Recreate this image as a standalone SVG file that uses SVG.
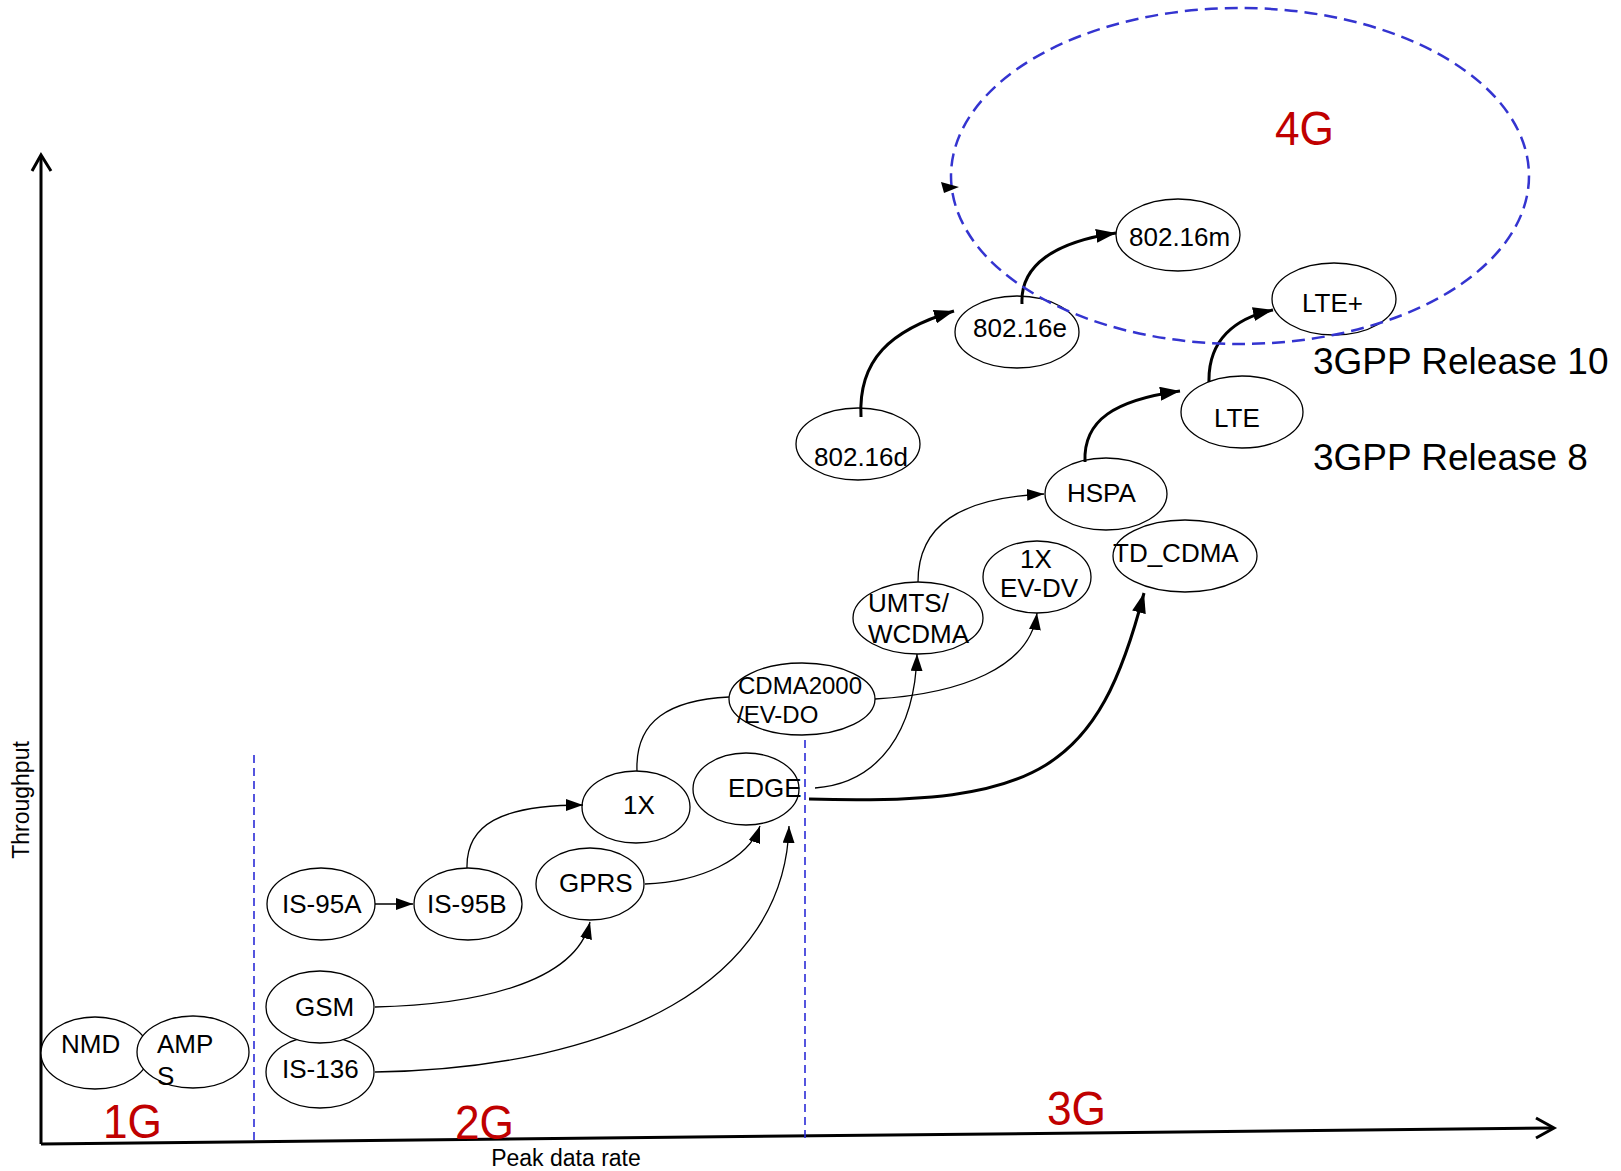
<svg xmlns="http://www.w3.org/2000/svg" width="1621" height="1171" viewBox="0 0 1621 1171">
<defs>
<style>
.node ellipse{fill:#fff;stroke:#000;stroke-width:1.3}
.node text{font-family:"Liberation Sans",Arial,sans-serif;font-size:26px;fill:#000}
.conn{fill:none;stroke:#000;stroke-width:1.3}
.thick{fill:none;stroke:#000;stroke-width:3}
.axis{fill:none;stroke:#000;stroke-width:3}
.gen{font-family:"Liberation Sans",Arial,sans-serif;font-size:49px;fill:#c00000}
.lbl{font-family:"Liberation Sans",Arial,sans-serif;font-size:23px;fill:#000}
.rel{font-family:"Liberation Sans",Arial,sans-serif;font-size:37px;fill:#000}
.sep{stroke:#2b2bd6;stroke-width:1.6;stroke-dasharray:8 5;fill:none}
</style>
<marker id="a" viewBox="0 0 17 12" refX="17" refY="6" markerWidth="17" markerHeight="12" markerUnits="userSpaceOnUse" orient="auto"><path d="M0,0 L17,6 L0,12 z" fill="#000"/></marker>
<marker id="b" viewBox="0 0 20 14" refX="20" refY="7" markerWidth="20" markerHeight="14" markerUnits="userSpaceOnUse" orient="auto"><path d="M0,0 L20,7 L0,14 z" fill="#000"/></marker>
</defs>
<rect width="1621" height="1171" fill="#fff"/>

<g id="axes">
<line class="axis" x1="41" y1="1144" x2="41" y2="156"/>
<polyline class="axis" points="32,171 41,155 51,171" stroke-width="2.5"/>
<line class="axis" x1="41" y1="1144" x2="1553" y2="1128"/>
<polyline class="axis" points="1536,1118 1554,1128 1536,1138" stroke-width="2.5"/>
<text class="lbl" transform="translate(29,800) rotate(-90)" text-anchor="middle">Throughput</text>
<text class="lbl" x="566" y="1166" text-anchor="middle">Peak data rate</text>
</g>

<g id="separators">
<line class="sep" x1="254" y1="755" x2="254" y2="1142"/>
<line class="sep" x1="805" y1="727" x2="805" y2="1142"/>
</g>

<g id="generation-labels">
<text class="gen" x="103" y="1138" textLength="59" lengthAdjust="spacingAndGlyphs">1G</text>
<text class="gen" x="455" y="1139" textLength="59" lengthAdjust="spacingAndGlyphs">2G</text>
<text class="gen" x="1047" y="1125" textLength="59" lengthAdjust="spacingAndGlyphs">3G</text>
<text class="gen" x="1275" y="145" textLength="59" lengthAdjust="spacingAndGlyphs">4G</text>
</g>

<g id="release-labels">
<text class="rel" x="1313" y="374">3GPP Release 10</text>
<text class="rel" x="1313" y="470">3GPP Release 8</text>
</g>

<g id="NMD" class="node"><ellipse cx="95" cy="1053" rx="54" ry="36"/><text x="61" y="1053">NMD</text></g>
<g id="AMPS" class="node"><ellipse cx="193" cy="1052" rx="56" ry="36"/><text x="157" y="1053">AMP</text><text x="157" y="1085">S</text></g>
<g id="IS-136" class="node"><ellipse cx="320" cy="1072" rx="54" ry="36"/><text x="282" y="1078">IS-136</text></g>
<g id="GSM" class="node"><ellipse cx="320" cy="1007" rx="54" ry="36"/><text x="295" y="1016">GSM</text></g>
<g id="IS-95A" class="node"><ellipse cx="321" cy="904" rx="54" ry="36"/><text x="282" y="913">IS-95A</text></g>
<g id="IS-95B" class="node"><ellipse cx="468" cy="904" rx="54" ry="36"/><text x="427" y="913">IS-95B</text></g>
<g id="GPRS" class="node"><ellipse cx="590" cy="884" rx="54" ry="36"/><text x="559" y="892">GPRS</text></g>
<g id="1X" class="node"><ellipse cx="636" cy="807" rx="54" ry="36"/><text x="623" y="814">1X</text></g>
<g id="EDGE" class="node"><ellipse cx="746" cy="789" rx="53" ry="36"/><text x="728" y="797">EDGE</text></g>
<g id="CDMA2000" class="node"><ellipse cx="802" cy="699" rx="73" ry="36"/><text x="738" y="694" style="font-size:24px">CDMA2000</text><text x="737" y="723" style="font-size:24px">/EV-DO</text></g>
<g id="UMTS" class="node"><ellipse cx="918" cy="618" rx="65" ry="36"/><text x="868" y="612">UMTS/</text><text x="868" y="643">WCDMA</text></g>
<g id="EV-DV" class="node"><ellipse cx="1037" cy="577" rx="54" ry="36"/><text x="1020" y="568">1X</text><text x="1000" y="597">EV-DV</text></g>
<g id="TD_CDMA" class="node"><ellipse cx="1185" cy="556" rx="72" ry="36"/><text x="1113" y="562">TD_CDMA</text></g>
<g id="HSPA" class="node"><ellipse cx="1106" cy="494" rx="61" ry="36"/><text x="1067" y="502">HSPA</text></g>
<g id="802.16d" class="node"><ellipse cx="858" cy="444" rx="62" ry="36"/><text x="814" y="466">802.16d</text></g>
<g id="LTE" class="node"><ellipse cx="1242" cy="412" rx="61" ry="36"/><text x="1214" y="427">LTE</text></g>
<g id="802.16e" class="node"><ellipse cx="1017" cy="332" rx="62" ry="36"/><text x="973" y="337">802.16e</text></g>
<g id="802.16m" class="node"><ellipse cx="1178" cy="235" rx="62" ry="36"/><text x="1129" y="246">802.16m</text></g>
<g id="LTE-plus" class="node"><ellipse cx="1334" cy="299" rx="62" ry="36"/><text x="1302" y="312">LTE+</text></g>

<g id="connectors">
<path class="conn" d="M375,904 L413,904" marker-end="url(#a)"/>
<path class="conn" d="M467,868 C466,825 500,805 583,805" marker-end="url(#a)"/>
<path class="conn" d="M375,1007 C470,1005 575,985 590,922" marker-end="url(#a)"/>
<path class="conn" d="M375,1072 C620,1068 785,980 789,826" marker-end="url(#a)"/>
<path class="conn" d="M645,884 C700,882 748,860 760,826" marker-end="url(#a)"/>
<path class="conn" d="M637,771 C635,720 670,700 729,697"/>
<path class="conn" d="M815,788 C880,783 915,730 917,654" marker-end="url(#a)"/>
<path class="conn" d="M875,699 C960,694 1030,668 1037,613" marker-end="url(#a)"/>
<path class="conn" d="M918,582 C918,525 960,498 1044,494" marker-end="url(#a)"/>
<path class="thick" d="M809,799 C1040,806 1098,770 1144,593" marker-end="url(#b)"/>
<path class="thick" d="M861,417 C858,360 890,330 954,311" marker-end="url(#b)"/>
<path class="thick" d="M1022,304 C1020,265 1055,242 1116,233" marker-end="url(#b)"/>
<path class="thick" d="M1085,462 C1083,420 1115,400 1180,391" marker-end="url(#b)"/>
<path class="thick" d="M1209,382 C1208,340 1235,318 1273,310" marker-end="url(#b)"/>
</g>

<g id="4G-region">
<ellipse cx="1240" cy="176" rx="289" ry="168" fill="none" stroke="#3434d0" stroke-width="2.5" stroke-dasharray="13 7"/>
<polygon points="941,182 959,187 944,193" fill="#000"/>
</g>
</svg>
